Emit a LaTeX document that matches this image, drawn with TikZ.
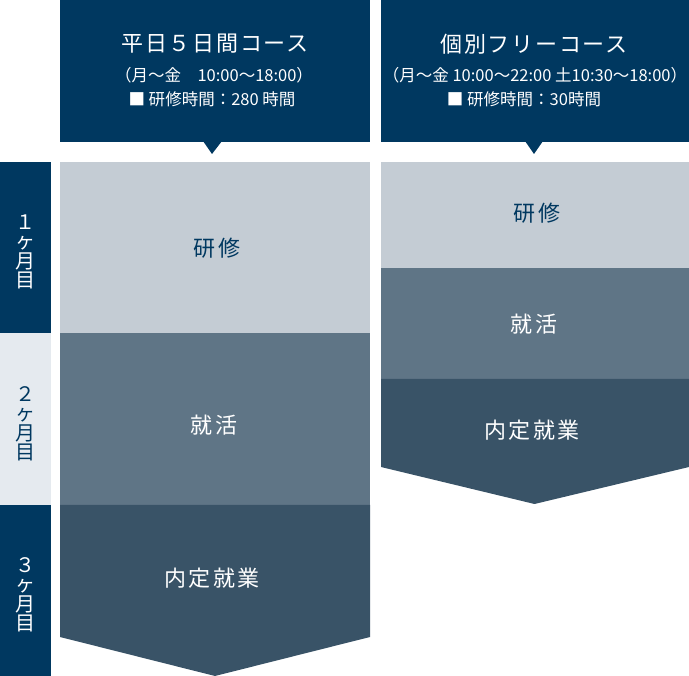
\documentclass[tikz,border=0pt]{standalone}
\usepackage{fontspec}
\setmainfont{Noto Sans CJK JP}
\usetikzlibrary{positioning}

\definecolor{navy}{HTML}{003860}
\definecolor{monthgray}{HTML}{E5EAEF}
\definecolor{bandlight}{HTML}{C4CCD4}
\definecolor{bandmid}{HTML}{5F7586}
\definecolor{banddark}{HTML}{395367}

\tikzset{
  month/.style={align=center, inner sep=0pt, font=\fontsize{20}{19.5}\selectfont},
  title/.style={text=white, inner sep=0pt, font=\fontsize{22}{26}\selectfont\addfontfeature{LetterSpace=8}},
  sub/.style={text=white, inner sep=0pt, font=\fontsize{16.5}{19}\selectfont},
  bandtext/.style={inner sep=0pt, font=\fontsize{22}{24}\selectfont\addfontfeature{LetterSpace=10}}
}

\begin{document}
\begin{tikzpicture}[x=1pt,y=-1pt]
\useasboundingbox (0,0) rectangle (689,676);

% Month labels
\fill[navy] (0,162) rectangle (51,333);
\fill[monthgray] (0,333) rectangle (51,505);
\fill[navy] (0,505) rectangle (51,676);
\node[month,text=white] (m1) at (25.5,252) {１\\ヶ\\月\\目};
\node[month,text=navy] (m2) at (25.5,424) {２\\ヶ\\月\\目};
\node[month,text=white] (m3) at (25.5,595) {３\\ヶ\\月\\目};

% Left course header
\fill[navy] (60,0) rectangle (370,142);
\fill[navy] (203,141) -- (222,141) -- (212,154) -- cycle;
\node[title] (t1) at (215,44) {平日５日間コース};
\node[sub] (s1) at (214,75) {（月～金　10:00～18:00）};
\node[sub] (h1) at (212,99) {■ 研修時間：280 時間};

% Left course bands
\fill[bandlight] (60,162) rectangle (370,333);
\fill[bandmid] (60,333) rectangle (370,505);
\fill[banddark] (60,505) -- (370,505) -- (370,637) -- (215,676) -- (60,637) -- cycle;
\node[bandtext,text=navy] (a1) at (217,248) {研修};
\node[bandtext,text=white] (a2) at (214,425) {就活};
\node[bandtext,text=white] (a3) at (212,578) {内定就業};

% Right course header
\fill[navy] (381,0) rectangle (689,142);
\fill[navy] (525,141) -- (543,141) -- (534,154) -- cycle;
\node[title] (t2) at (534,44) {個別フリーコース};
\node[sub] (s2) at (535,75) {（月～金 10:00～22:00 土10:30～18:00）};
\node[sub] (h2) at (524,99) {■ 研修時間：30時間};

% Right course bands
\fill[bandlight] (381,162) rectangle (689,268);
\fill[bandmid] (381,268) rectangle (689,379);
\fill[banddark] (381,379) -- (689,379) -- (689,467) -- (534.5,504) -- (381,467) -- cycle;
\node[bandtext,text=navy] (b1) at (537,213) {研修};
\node[bandtext,text=white] (b2) at (534,324) {就活};
\node[bandtext,text=white] (b3) at (532,430) {内定就業};

\end{tikzpicture}
\end{document}
